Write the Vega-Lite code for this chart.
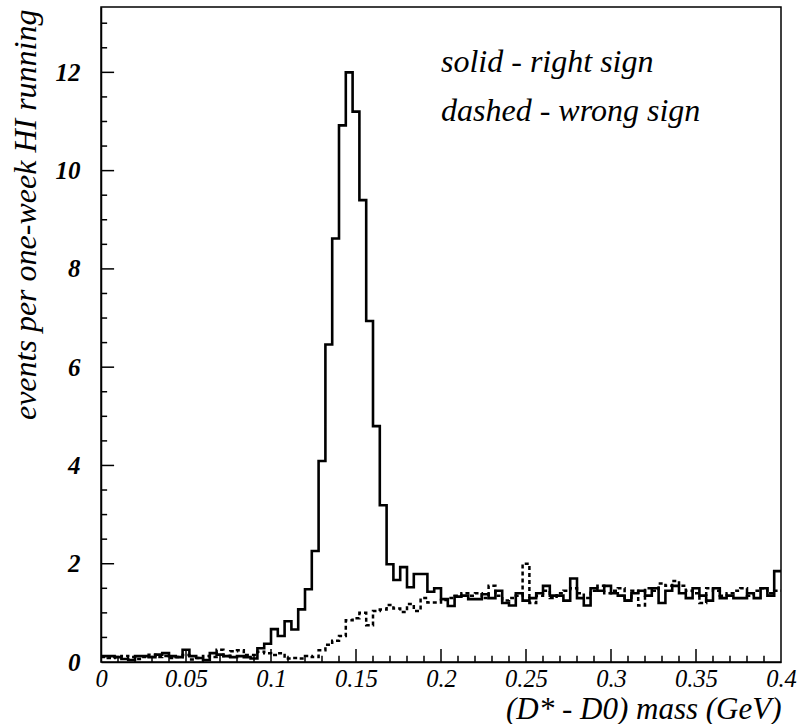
{
  "$schema": "https://vega.github.io/schema/vega-lite/v6.json",
  "width": 680,
  "height": 655,
  "autosize": {"type": "none"},
  "padding": {"left": 101, "top": 7, "right": 19, "bottom": 62},
  "background": "white",
  "config": {
    "font": "Liberation Serif",
    "view": {"stroke": "black", "strokeWidth": 1.5},
    "axis": {"grid": false, "domainColor": "black", "domainWidth": 1.5, "tickColor": "black", "tickWidth": 1.5, "tickOpacity": 0, "labelColor": "black", "titleColor": "black", "labelFont": "Liberation Serif", "titleFont": "Liberation Serif"}
  },
  "datasets": {
    "hist": [
      {"x":0,"r":0.12,"w":0.1},{"x":0.004,"r":0.12,"w":0.08},{"x":0.008,"r":0.1,"w":0.1},{"x":0.012,"r":0.06,"w":0.12},{"x":0.016,"r":0.04,"w":0.1},
      {"x":0.02,"r":0.12,"w":0.06},{"x":0.024,"r":0.12,"w":0.1},{"x":0.028,"r":0.1,"w":0.15},{"x":0.032,"r":0.15,"w":0.1},{"x":0.036,"r":0.18,"w":0.12},
      {"x":0.04,"r":0.12,"w":0.08},{"x":0.044,"r":0.1,"w":0.1},{"x":0.048,"r":0.25,"w":0.14},{"x":0.052,"r":0.12,"w":0.05},{"x":0.056,"r":0.08,"w":0.08},
      {"x":0.06,"r":0.04,"w":0.12},{"x":0.064,"r":0.18,"w":0.1},{"x":0.068,"r":0.15,"w":0.25},{"x":0.072,"r":0.12,"w":0.12},{"x":0.076,"r":0.1,"w":0.22},
      {"x":0.08,"r":0.12,"w":0.24},{"x":0.084,"r":0.1,"w":0.14},{"x":0.088,"r":0.07,"w":0.14},{"x":0.092,"r":0.28,"w":0.21},{"x":0.096,"r":0.37,"w":0.18},
      {"x":0.1,"r":0.67,"w":0.14},{"x":0.104,"r":0.53,"w":0.18},{"x":0.108,"r":0.83,"w":0.07},{"x":0.112,"r":0.66,"w":0.08},{"x":0.116,"r":1.07,"w":0.07},
      {"x":0.12,"r":1.48,"w":0.12},{"x":0.124,"r":2.26,"w":0.1},{"x":0.128,"r":4.09,"w":0.24},{"x":0.132,"r":6.46,"w":0.35},{"x":0.136,"r":8.62,"w":0.43},
      {"x":0.14,"r":10.92,"w":0.53},{"x":0.144,"r":12.0,"w":0.85},{"x":0.148,"r":11.2,"w":0.89},{"x":0.152,"r":9.4,"w":1.0},{"x":0.156,"r":6.94,"w":0.75},
      {"x":0.16,"r":4.8,"w":1.04},{"x":0.164,"r":3.19,"w":1.07},{"x":0.168,"r":1.99,"w":1.16},{"x":0.172,"r":1.67,"w":1.09},{"x":0.176,"r":1.93,"w":1.02},
      {"x":0.18,"r":1.52,"w":1.18},{"x":0.184,"r":1.79,"w":1.04},{"x":0.188,"r":1.79,"w":1.3},{"x":0.192,"r":1.43,"w":1.21},{"x":0.196,"r":1.5,"w":1.21},
      {"x":0.2,"r":1.28,"w":1.26},{"x":0.204,"r":1.14,"w":1.3},{"x":0.208,"r":1.33,"w":1.35},{"x":0.212,"r":1.35,"w":1.4},{"x":0.216,"r":1.28,"w":1.35},
      {"x":0.22,"r":1.28,"w":1.4},{"x":0.224,"r":1.38,"w":1.3},{"x":0.228,"r":1.3,"w":1.55},{"x":0.232,"r":1.45,"w":1.35},{"x":0.236,"r":1.2,"w":1.25},
      {"x":0.24,"r":1.15,"w":1.3},{"x":0.244,"r":1.4,"w":1.35},{"x":0.248,"r":1.25,"w":2.0},{"x":0.252,"r":1.3,"w":1.2},{"x":0.256,"r":1.4,"w":1.35},
      {"x":0.26,"r":1.55,"w":1.45},{"x":0.264,"r":1.35,"w":1.3},{"x":0.268,"r":1.35,"w":1.4},{"x":0.272,"r":1.25,"w":1.45},{"x":0.276,"r":1.7,"w":1.5},
      {"x":0.28,"r":1.3,"w":1.4},{"x":0.284,"r":1.15,"w":1.3},{"x":0.288,"r":1.5,"w":1.45},{"x":0.292,"r":1.45,"w":1.55},{"x":0.296,"r":1.55,"w":1.4},
      {"x":0.3,"r":1.4,"w":1.45},{"x":0.304,"r":1.35,"w":1.5},{"x":0.308,"r":1.25,"w":1.25},{"x":0.312,"r":1.4,"w":1.45},{"x":0.316,"r":1.45,"w":1.15},
      {"x":0.32,"r":1.35,"w":1.5},{"x":0.324,"r":1.5,"w":1.45},{"x":0.328,"r":1.2,"w":1.6},{"x":0.332,"r":1.45,"w":1.55},{"x":0.336,"r":1.55,"w":1.65},
      {"x":0.34,"r":1.4,"w":1.55},{"x":0.344,"r":1.3,"w":1.45},{"x":0.348,"r":1.5,"w":1.4},{"x":0.352,"r":1.35,"w":1.2},{"x":0.356,"r":1.25,"w":1.5},
      {"x":0.36,"r":1.5,"w":1.45},{"x":0.364,"r":1.3,"w":1.35},{"x":0.368,"r":1.35,"w":1.4},{"x":0.372,"r":1.3,"w":1.45},{"x":0.376,"r":1.3,"w":1.5},
      {"x":0.38,"r":1.4,"w":1.35},{"x":0.384,"r":1.3,"w":1.45},{"x":0.388,"r":1.5,"w":1.5},{"x":0.392,"r":1.35,"w":1.4},{"x":0.396,"r":1.85,"w":1.45},
      {"x":0.4,"r":1.85,"w":1.45}
    ],
    "notes": [
      {"x": 0.2, "y": 12, "t": "solid - right sign"},
      {"x": 0.2, "y": 11, "t": "dashed - wrong sign"}
    ],
    "xmajor": [{"v":0.05},{"v":0.1},{"v":0.15},{"v":0.2},{"v":0.25},{"v":0.3},{"v":0.35}],
    "xminor": [{"v":0.01},{"v":0.02},{"v":0.03},{"v":0.04},{"v":0.06},{"v":0.07},{"v":0.08},{"v":0.09},{"v":0.11},{"v":0.12},{"v":0.13},{"v":0.14},{"v":0.16},{"v":0.17},{"v":0.18},{"v":0.19},{"v":0.21},{"v":0.22},{"v":0.23},{"v":0.24},{"v":0.26},{"v":0.27},{"v":0.28},{"v":0.29},{"v":0.31},{"v":0.32},{"v":0.33},{"v":0.34},{"v":0.36},{"v":0.37},{"v":0.38},{"v":0.39}],
    "ymajor": [{"v":2},{"v":4},{"v":6},{"v":8},{"v":10},{"v":12}],
    "yminor": [{"v":0.5},{"v":1},{"v":1.5},{"v":2.5},{"v":3},{"v":3.5},{"v":4.5},{"v":5},{"v":5.5},{"v":6.5},{"v":7},{"v":7.5},{"v":8.5},{"v":9},{"v":9.5},{"v":10.5},{"v":11},{"v":11.5},{"v":12.5},{"v":13}]
  },
  "layer": [
    {
      "data": {"name": "hist"},
      "mark": {"type": "line", "interpolate": "step-after", "strokeWidth": 2.5, "color": "black", "strokeDash": [4, 3]},
      "encoding": {
        "x": {"field": "x", "type": "quantitative", "scale": {"domain": [0, 0.4], "nice": false, "zero": false},
          "axis": {"orient": "bottom", "values": [0, 0.05, 0.1, 0.15, 0.2, 0.25, 0.3, 0.35, 0.4], "format": "~g", "tickSize": -13, "labelPadding": 18, "labelFontSize": 24.5, "labelFontStyle": "italic", "labelFlush": false, "labelOverlap": false,
            "title": "(D* - D0) mass (GeV)", "titleFontSize": 31, "titleFontStyle": "italic", "titleFontWeight": "normal", "titleAnchor": "end", "titleAlign": "right", "titleX": 680, "titleY": 56, "titleBaseline": "alphabetic"}},
        "y": {"field": "w", "type": "quantitative", "scale": {"domain": [0, 13.33], "nice": false, "zero": true},
          "axis": {"orient": "left", "values": [0, 2, 4, 6, 8, 10, 12], "format": "d", "tickSize": -13, "labelPadding": 34, "labelFontSize": 25, "labelFontStyle": "italic", "labelFontWeight": "bold", "labelFlush": false, "labelOverlap": false,
            "title": "events per one-week HI running", "titleFontSize": 32, "titleFontStyle": "italic", "titleFontWeight": "normal", "titleAngle": -90, "titleAnchor": "end", "titleAlign": "right", "titleX": -66, "titleY": 2, "titleBaseline": "alphabetic"}}
      }
    },
    {
      "data": {"name": "hist"},
      "mark": {"type": "line", "interpolate": "step-after", "strokeWidth": 2.6, "color": "black"},
      "encoding": {
        "x": {"field": "x", "type": "quantitative"},
        "y": {"field": "r", "type": "quantitative"}
      }
    },
    {
      "data": {"name": "xmajor"},
      "mark": {"type": "rule", "color": "black", "strokeWidth": 1.5},
      "encoding": {
        "x": {"field": "v", "type": "quantitative"},
        "y": {"datum": 0, "type": "quantitative"},
        "y2": {"datum": 0.265}
      }
    },
    {
      "data": {"name": "xminor"},
      "mark": {"type": "rule", "color": "black", "strokeWidth": 1.5},
      "encoding": {
        "x": {"field": "v", "type": "quantitative"},
        "y": {"datum": 0, "type": "quantitative"},
        "y2": {"datum": 0.125}
      }
    },
    {
      "data": {"name": "ymajor"},
      "mark": {"type": "rule", "color": "black", "strokeWidth": 1.5},
      "encoding": {
        "y": {"field": "v", "type": "quantitative"},
        "x": {"datum": 0, "type": "quantitative"},
        "x2": {"datum": 0.0077}
      }
    },
    {
      "data": {"name": "yminor"},
      "mark": {"type": "rule", "color": "black", "strokeWidth": 1.5},
      "encoding": {
        "y": {"field": "v", "type": "quantitative"},
        "x": {"datum": 0, "type": "quantitative"},
        "x2": {"datum": 0.0036}
      }
    },
    {
      "data": {"name": "notes"},
      "mark": {"type": "text", "align": "left", "baseline": "alphabetic", "fontSize": 32, "fontStyle": "italic", "font": "Liberation Serif", "color": "black"},
      "encoding": {
        "x": {"field": "x", "type": "quantitative"},
        "y": {"field": "y", "type": "quantitative"},
        "text": {"field": "t", "type": "nominal"}
      }
    }
  ]
}
